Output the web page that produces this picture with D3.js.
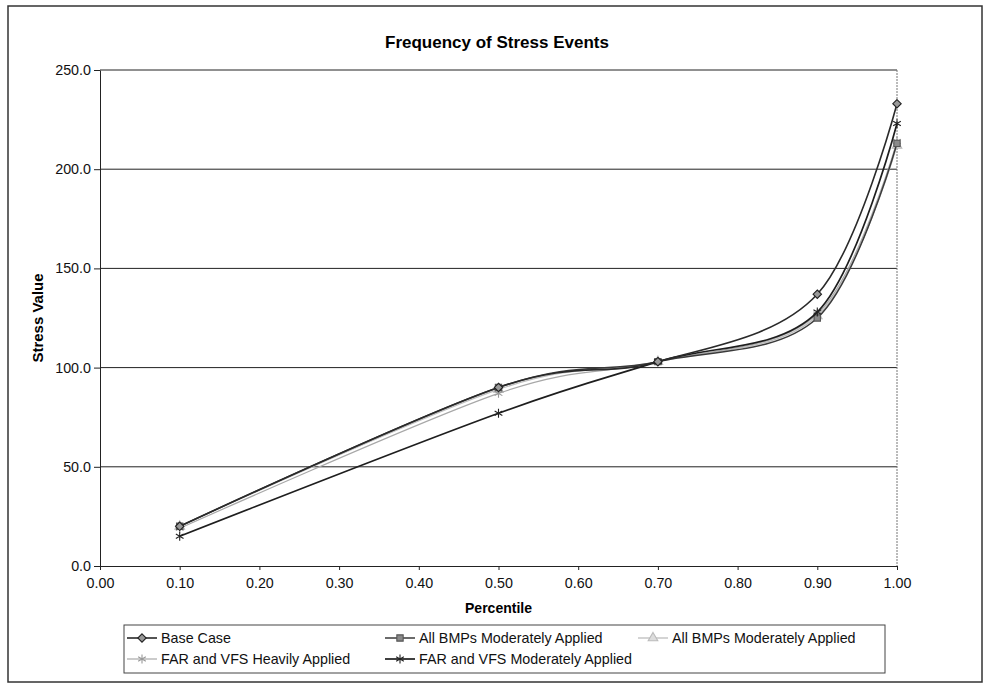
<!DOCTYPE html>
<html>
<head>
<meta charset="utf-8">
<script src="https://cdn.jsdelivr.net/npm/d3@7"></script>
<style>
  body { margin: 0; background: #fff; }
  svg { font-family: Arial, "Liberation Sans", sans-serif; }
  .axis text { font-size: 14.3px; fill: #111; }
  .axis path, .axis line { stroke: #222; }
</style>
</head>
<body>
<svg width="990" height="684"></svg>
<script>
// percentiles on the x axis
var percentiles = [0.1, 0.5, 0.7, 0.9, 1.0];

// stress values per scenario
var baseCase    = [20, 90, 103, 137, 233];
var allBmps     = [20, 90, 103, 125, 213];
var allBmps2    = [20, 89, 103, 126, 212];
var farHeavy    = [19, 87, 103, 127, 214];
var farModerate = [15, 77, 103, 128, 223];

var seriesNames = ["Base Case", "All BMPs Moderately Applied", "All BMPs Moderately Applied",
                   "FAR and VFS Heavily Applied", "FAR and VFS Moderately Applied"];

var xTicks = [0, 0.1, 0.2, 0.3, 0.4, 0.5, 0.6, 0.7, 0.8, 0.9, 1.0];
var yTicks = [0, 50, 100, 150, 200, 250];

var styles = [
  {stroke: "#2a2a2a", width: 1.6, marker: d3.symbolDiamond2, fill: "#999", mstroke: "#222", size: 45},
  {stroke: "#3a3a3a", width: 1.5, marker: d3.symbolSquare, fill: "#8a8a8a", mstroke: "#555", size: 40},
  {stroke: "#bdbdbd", width: 1.3, marker: d3.symbolTriangle, fill: "#ddd", mstroke: "#bbb", size: 40},
  {stroke: "#a8a8a8", width: 1.2, marker: d3.symbolAsterisk, fill: "none", mstroke: "#999", size: 55},
  {stroke: "#1e1e1e", width: 1.7, marker: d3.symbolAsterisk, fill: "none", mstroke: "#222", size: 55}
];

var svg = d3.select("svg"),
    margin = {top: 70, right: 93, bottom: 118, left: 100},
    width = svg.attr("width") - margin.left - margin.right,
    height = svg.attr("height") - margin.top - margin.bottom;

// outer frame
svg.append("rect")
    .attr("x", 8).attr("y", 6)
    .attr("width", 974).attr("height", 676)
    .attr("fill", "none").attr("stroke", "#333").attr("stroke-width", 1.5);

var g = svg.append("g").attr("transform", "translate(" + margin.left + "," + margin.top + ")");

var x = d3.scaleLinear().domain([0, 1]).range([0, width]),
    y = d3.scaleLinear().domain([0, 250]).range([height, 0]);

// gridlines
g.selectAll(".grid")
    .data(yTicks.slice(1))
    .enter().append("line")
      .attr("x1", 0).attr("x2", width)
      .attr("y1", function(d) { return y(d); })
      .attr("y2", function(d) { return y(d); })
      .attr("stroke", "#222").attr("stroke-width", 1);

// right border of plot area
g.append("line")
    .attr("x1", width).attr("x2", width).attr("y1", 0).attr("y2", height)
    .attr("stroke", "#777").attr("stroke-dasharray", "2,1");

g.append("g")
    .attr("class", "axis")
    .attr("transform", "translate(0," + height + ")")
    .call(d3.axisBottom(x).tickValues(xTicks).tickFormat(d3.format(".2f")).tickSize(4).tickPadding(8).tickSizeOuter(0));

g.append("g")
    .attr("class", "axis")
    .call(d3.axisLeft(y).tickValues(yTicks).tickFormat(d3.format(".1f")).tickSize(6).tickPadding(3).tickSizeOuter(0));

// title and axis labels
svg.append("text")
    .attr("x", 497).attr("y", 48)
    .attr("text-anchor", "middle")
    .style("font-size", "17px").style("font-weight", "bold")
    .text("Frequency of Stress Events");

svg.append("text")
    .attr("transform", "translate(43," + (margin.top + height / 2) + ") rotate(-90)")
    .attr("text-anchor", "middle")
    .style("font-size", "15px").style("font-weight", "bold")
    .text("Stress Value");

svg.append("text")
    .attr("x", margin.left + width / 2).attr("y", 613)
    .attr("text-anchor", "middle")
    .style("font-size", "14px").style("font-weight", "bold")
    .text("Percentile");

var series = [baseCase, allBmps, allBmps2, farHeavy, farModerate].map(function(vals, i) {
  return {
    name: seriesNames[i],
    style: styles[i],
    values: percentiles.map(function(p, j) { return {p: p, v: vals[j]}; })
  };
});

var line = d3.line()
    .curve(d3.curveCardinal.tension(0))
    .x(function(d) { return x(d.p); })
    .y(function(d) { return y(d.v); });

// draw light series first so the dark ones sit on top
var order = [2, 3, 1, 4, 0];

var s = g.selectAll(".series")
  .data(order.map(function(i) { return series[i]; }))
  .enter().append("g")
    .attr("class", "series");

s.append("path")
    .attr("fill", "none")
    .attr("stroke", function(d) { return d.style.stroke; })
    .attr("stroke-width", function(d) { return d.style.width; })
    .attr("d", function(d) { return line(d.values); });

s.each(function(d) {
  var sym = d3.symbol().type(d.style.marker).size(d.style.size);
  d3.select(this).selectAll(".pt")
    .data(d.values)
    .enter().append("path")
      .attr("transform", function(p) { return "translate(" + x(p.p) + "," + y(p.v) + ")"; })
      .attr("d", sym)
      .attr("fill", d.style.fill)
      .attr("stroke", d.style.mstroke)
      .attr("stroke-width", 1.1);
});

// legend
var legend = svg.append("g");
legend.append("rect")
    .attr("x", 124).attr("y", 625).attr("width", 761).attr("height", 48)
    .attr("fill", "#fff").attr("stroke", "#444").attr("stroke-width", 1);

var legendPos = [[127, 638], [385, 638], [638, 638], [127, 659], [385, 659]];

var items = legend.selectAll(".item")
  .data(series)
  .enter().append("g")
    .attr("transform", function(d, i) { return "translate(" + legendPos[i][0] + "," + legendPos[i][1] + ")"; });

items.append("line")
    .attr("x1", 0).attr("x2", 30)
    .attr("stroke", function(d) { return d.style.stroke; })
    .attr("stroke-width", function(d) { return d.style.width; });

items.append("path")
    .attr("transform", "translate(15,0)")
    .attr("d", function(d) { return d3.symbol().type(d.style.marker).size(d.style.size)(); })
    .attr("fill", function(d) { return d.style.fill; })
    .attr("stroke", function(d) { return d.style.mstroke; })
    .attr("stroke-width", 1.1);

items.append("text")
    .attr("x", 34).attr("dy", "0.35em")
    .style("font-size", "14.3px")
    .attr("fill", "#111")
    .text(function(d) { return d.name; });
</script>
</body>
</html>
